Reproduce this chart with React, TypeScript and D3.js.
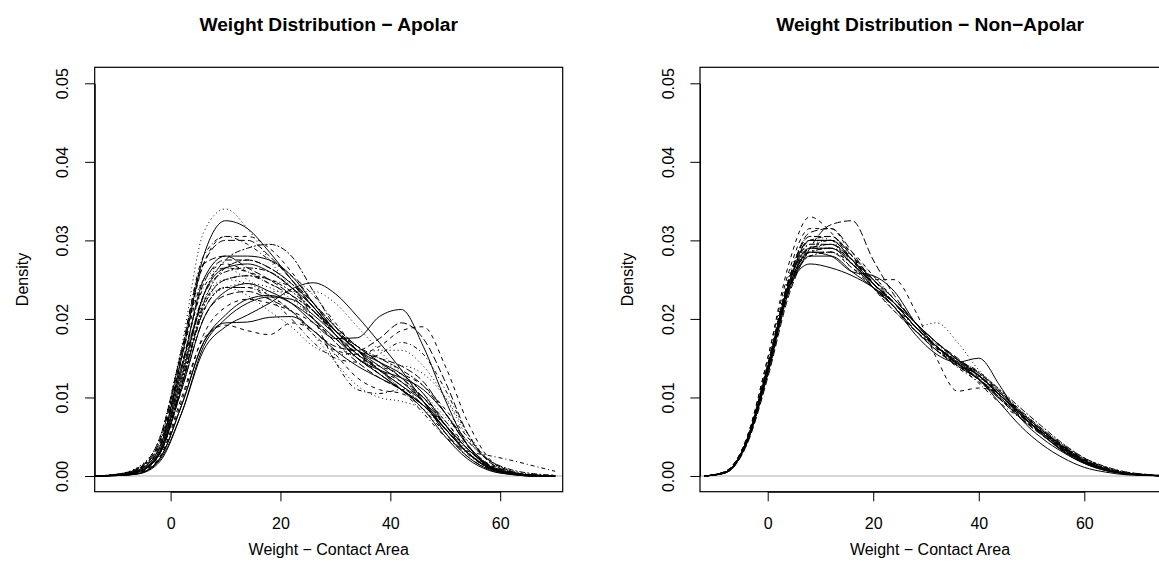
import React, { useRef, useEffect } from 'react';
import * as d3 from 'd3';

// density values in thousandths (x 0.001)
const leftGrid = [-14, -10, -6, -2, 2, 6, 10, 14, 18, 22, 26, 30, 34, 38, 42, 46, 50, 54, 58, 62, 66, 70];
const leftCurves = [
  [0, 0.1, 0.7, 3.6, 15, 28, 32.5, 31.5, 28.5, 25, 21.5, 18.5, 16, 14, 12, 9.5, 6, 3, 1.1, 0.3, 0.1, 0],
  [0, 0.2, 1.1, 4.8, 16.5, 31, 34, 31.5, 27.5, 24, 21, 18.5, 16.5, 14.5, 12.5, 10, 6.5, 3.2, 1.2, 0.4, 0.1, 0],
  [0, 0.1, 0.5, 2.8, 11, 20, 23.5, 24.5, 23.5, 22, 19.5, 17.5, 17.6, 20.3, 21.2, 16.5, 9.7, 4, 1.2, 0.3, 0.1, 0],
  [0, 0.05, 0.3, 2, 8, 16, 19, 20.5, 22, 23.8, 24.6, 23.2, 20.3, 17, 13.5, 9.5, 5.5, 2.5, 0.8, 0.2, 0, 0],
  [0, 0.05, 0.3, 2.2, 9, 17, 19.5, 19.6, 20.2, 20.3, 18.5, 16, 14, 12.5, 11, 8.5, 5, 2.2, 0.7, 0.2, 0, 0],
  [0, 0.1, 0.4, 2.4, 10, 17.5, 19.2, 18.5, 18, 19.5, 18.5, 15.5, 12.5, 11, 10.5, 9, 6, 3, 1, 0.3, 0.1, 0],
  [0, 0.2, 0.9, 4, 14, 22, 25, 25.5, 24.5, 23, 21, 18.5, 16, 13.5, 11, 8, 5, 3.2, 2.6, 2, 1.3, 0.6],
  [0, 0.1, 0.9, 4.4, 15.5, 27, 30, 30, 28, 25, 22, 19, 16.5, 14.5, 12.5, 10, 6.5, 3.5, 1.3, 0.4, 0.1, 0],
  [0, 0.1, 0.5, 2.8, 12, 23, 27.5, 29, 29.5, 28, 23.5, 19, 16, 13.5, 11.5, 9, 6, 3, 1, 0.3, 0.1, 0],
  [0, 0.1, 0.6, 3.2, 13.5, 25, 28, 28, 27.5, 25.5, 22, 18.5, 16, 14.5, 13, 10.5, 6.5, 3, 1, 0.3, 0.1, 0],
  [0, 0.15, 0.8, 4, 15, 25, 27, 26, 24.5, 23, 21, 18, 15.5, 13.5, 12, 10, 7, 3.8, 1.5, 0.5, 0.1, 0],
  [0, 0.2, 1.1, 4.8, 16, 25, 26.5, 25, 23, 21, 18, 14.5, 11.5, 10, 9.5, 8.5, 6, 3, 1, 0.3, 0.1, 0],
  [0, 0.1, 0.7, 3.6, 14, 24, 26.5, 26, 25, 24, 20, 14.5, 11, 10.5, 11, 10, 7, 3.5, 1.2, 0.3, 0.1, 0],
  [0, 0.1, 0.5, 2.8, 11, 20, 23, 23.5, 22.5, 21, 18.5, 16.5, 16, 17.5, 19.5, 17.5, 12, 5.5, 1.8, 0.5, 0.1, 0],
  [0, 0.1, 0.6, 3.2, 13, 23, 26, 26.5, 26, 24, 21, 18, 15, 13, 11, 9, 6.5, 3.5, 1.4, 0.4, 0.1, 0],
  [0, 0.05, 0.3, 2.2, 9, 17, 20.5, 22.5, 23, 22, 20, 17.5, 15, 13, 11, 9, 6, 3, 1, 0.3, 0, 0],
  [0, 0.1, 0.4, 2.4, 9.5, 18, 21.5, 22.5, 22, 21, 19.5, 17.5, 15.5, 14, 13, 11.5, 8.5, 5, 2, 0.6, 0.1, 0],
  [0, 0.2, 0.9, 4, 14, 22, 24, 23, 21, 19, 16.5, 15.5, 15.5, 16, 16, 14, 10, 5, 1.8, 0.5, 0.1, 0],
  [0, 0.15, 0.9, 4.4, 16, 28, 30.5, 29.5, 27.5, 25.5, 23, 19.5, 16, 13.5, 11, 8.5, 5.5, 2.8, 1, 0.3, 0, 0],
  [0, 0.1, 0.7, 3.6, 14, 24.5, 27.5, 27.5, 26.5, 24.5, 21.5, 18.5, 16, 15, 14, 12, 8, 4, 1.4, 0.4, 0.1, 0],
  [0, 0.1, 0.5, 2.8, 11.5, 21.5, 25, 25.5, 25, 23.5, 21, 18.5, 16.5, 15, 13.5, 11.5, 8, 4.5, 2, 0.8, 0.3, 0.1],
  [0, 0.1, 0.5, 3, 12.5, 23, 26.5, 27, 26, 24, 21.5, 18, 15, 13.5, 12.5, 11, 8, 4, 1.3, 0.3, 0.1, 0],
  [0, 0.1, 0.7, 3.6, 15, 27, 30.5, 30.5, 29, 26, 22, 18.5, 15.5, 13, 11, 9, 6, 3, 1, 0.3, 0.1, 0],
  [0, 0.15, 0.8, 3.6, 13, 22.5, 25, 24.5, 23.5, 23.5, 23.5, 22, 19, 16, 13, 10.5, 7.5, 4.5, 2, 0.7, 0.2, 0],
  [0, 0.1, 0.5, 2.8, 11.5, 21, 24, 24, 22.5, 20, 17, 15, 14.5, 15.5, 17, 15.5, 11, 5.5, 1.8, 0.5, 0.1, 0],
  [0, 0.2, 1, 4.8, 16, 27, 28, 26.5, 25, 23, 20, 17, 14.5, 12.5, 11, 9, 6, 3, 1.1, 0.3, 0.1, 0],
  [0, 0.1, 0.5, 2.8, 11.5, 22, 26.5, 27.5, 26.5, 24.5, 22, 19, 16.5, 14.5, 12.5, 9.5, 5.5, 2.5, 0.9, 0.3, 0, 0],
  [0, 0.05, 0.25, 1.8, 8, 16.5, 20, 22, 22.8, 22.5, 20.5, 18, 15.5, 13.5, 11.5, 9.5, 6.5, 3.5, 1.2, 0.3, 0, 0],
  [0, 0.1, 0.5, 2.9, 11.5, 21, 24, 24, 23, 21, 18, 16, 15.5, 16.5, 18.5, 19, 14, 7, 2.2, 0.6, 0.1, 0],
  [0, 0.1, 0.6, 3.2, 12, 21, 24, 24.5, 24, 22.5, 20, 17, 15, 14, 14, 13, 10, 5.5, 2, 0.6, 0.1, 0],
];
const leftLty = [1, 3, 1, 1, 1, 2, 4, 5, 6, 1, 2, 3, 4, 5, 6, 1, 2, 3, 4, 5, 6, 1, 2, 3, 4, 5, 6, 1, 2, 3];

const rightGrid = [-12, -8, -4, 0, 4, 8, 12, 16, 20, 24, 28, 32, 36, 40, 44, 48, 52, 56, 60, 64, 68, 72, 76];
const rightCurves = [
  [0, 0.5, 4.3, 13.5, 24.5, 30, 30, 27.5, 24.5, 22, 19, 16.5, 14.5, 12.8, 10.3, 7.8, 5.5, 3.4, 1.8, 0.8, 0.3, 0.1, 0],
  [0, 0.6, 4.8, 15, 27, 33, 31, 27.5, 24, 21.5, 18.5, 16, 14.3, 12.3, 9.8, 7.3, 5.2, 3.2, 1.7, 0.8, 0.3, 0.1, 0],
  [0, 0.5, 4.3, 13.5, 24, 28.5, 29, 27.5, 24, 21, 19, 19.5, 17, 13.5, 11, 8.2, 5.8, 3.6, 1.9, 0.9, 0.3, 0.1, 0],
  [0, 0.4, 4.1, 13, 23.5, 28, 28.5, 27, 24.5, 22, 19, 16.5, 14.8, 13.2, 10.8, 8.3, 6, 3.9, 2.2, 1.1, 0.4, 0.15, 0],
  [0, 0.5, 4.5, 14, 25, 31, 31.5, 28.5, 24.5, 21.5, 18.5, 16, 14, 12.3, 9.8, 7.3, 5.2, 3.3, 1.8, 0.8, 0.3, 0.1, 0],
  [0, 0.5, 4.3, 13.5, 24.5, 29.5, 29.5, 27, 24, 21.5, 18.5, 16, 14, 12.3, 10.3, 8, 5.8, 3.7, 2, 0.9, 0.3, 0.1, 0],
  [0, 0.4, 4.1, 13, 23.5, 28, 28, 26, 24, 21.5, 18, 15.5, 14.5, 15, 11.5, 7.3, 4.8, 3, 1.6, 0.7, 0.25, 0.1, 0],
  [0, 0.5, 4.3, 13.5, 24, 28.5, 28.5, 26.5, 25, 25, 21, 15, 10.8, 11.2, 10.5, 8, 5.6, 3.5, 1.9, 0.9, 0.3, 0.1, 0],
  [0, 0.6, 4.7, 14.5, 25.5, 30.5, 30, 27, 24, 21, 18.5, 16.5, 14.3, 12.7, 10.2, 7.7, 5.4, 3.4, 1.8, 0.8, 0.3, 0.1, 0],
  [0, 0.5, 4.3, 13.5, 24, 29, 29.5, 27.5, 24.5, 22, 19, 16.5, 14.2, 11.8, 9.3, 7.3, 5.5, 3.7, 2.1, 1.1, 0.5, 0.2, 0.05],
  [0, 0.4, 3.9, 12.5, 23, 29, 32, 32.5, 27.5, 23, 19.5, 17, 15, 12.8, 10.3, 7.8, 5.5, 3.5, 1.9, 0.9, 0.3, 0.1, 0],
  [0, 0.5, 4.4, 13.8, 24.5, 29, 29, 27, 24.5, 22, 19, 16.5, 14.6, 12.8, 10.3, 8, 5.8, 3.8, 2, 0.9, 0.3, 0.1, 0],
  [0, 0.5, 4.5, 14, 24, 27, 26.5, 25.5, 24, 22, 19.5, 17, 14.8, 12.8, 10.3, 7.8, 5.3, 3.2, 1.7, 0.8, 0.3, 0.1, 0],
  [0, 0.5, 4.3, 13.5, 24.5, 30, 30.5, 28, 24.5, 21.5, 18.5, 16.3, 14, 12.6, 10.6, 8.1, 5.8, 3.7, 2, 0.9, 0.3, 0.1, 0],
  [0, 0.4, 4.1, 13, 23.5, 28.5, 29.5, 28, 25.5, 22.5, 19.5, 17, 14.8, 13, 10.8, 8.3, 6, 3.9, 2.2, 1.1, 0.4, 0.15, 0],
  [0, 0.5, 4.3, 13.5, 24, 28.5, 28.5, 26.5, 24, 21.5, 19, 16.8, 14.8, 13.3, 10.8, 8.2, 6, 4, 2.3, 1.1, 0.4, 0.15, 0],
  [0, 0.5, 4.4, 14, 25, 30, 30, 27.5, 24.5, 22, 19, 16.5, 14.3, 12.8, 10.6, 8, 5.8, 3.7, 2, 0.9, 0.3, 0.1, 0],
  [0, 0.4, 4.2, 13.2, 24, 29, 29.5, 27.5, 25, 22.5, 19.5, 16.5, 14.3, 12.3, 10, 7.6, 5.6, 3.6, 1.9, 0.9, 0.3, 0.1, 0],
  [0, 0.5, 4.3, 13.5, 24, 28.5, 28, 26, 25.5, 23.5, 19.5, 16.5, 14.3, 12.8, 10.3, 7.8, 5.3, 3.1, 1.6, 0.7, 0.25, 0.1, 0],
  [0, 0.6, 4.8, 15, 26, 31.5, 31.5, 28, 24, 21, 18.5, 16.3, 14.1, 12.3, 9.8, 7.4, 5.3, 3.3, 1.7, 0.8, 0.3, 0.1, 0],
  [0, 0.5, 4.3, 13.5, 24.5, 29.5, 30, 28, 25, 22, 19, 16.5, 14.3, 12.6, 10.3, 8, 5.8, 3.8, 2.1, 1, 0.35, 0.1, 0],
  [0, 0.5, 4.3, 13.6, 24, 28, 28.5, 27, 24.5, 22, 19, 16.2, 13.8, 12, 9.8, 7.6, 5.6, 3.6, 1.9, 0.9, 0.3, 0.1, 0],
  [0, 0.5, 4.5, 14.2, 25, 30.5, 30.5, 28, 25, 22, 19, 16.5, 14.3, 12.4, 10, 7.6, 5.5, 3.5, 1.8, 0.8, 0.3, 0.1, 0],
  [0, 0.5, 4.3, 13.5, 24, 28.5, 29, 27.5, 25, 22.5, 19.5, 17, 14.8, 13.1, 11, 8.6, 6.3, 4.1, 2.3, 1.2, 0.5, 0.2, 0.05],
  [0, 0.5, 4.4, 13.8, 24.5, 29, 29, 27, 24.5, 22, 19, 16.5, 14.3, 12.3, 9.3, 6.3, 4, 2.3, 1.1, 0.5, 0.15, 0.05, 0],
  [0, 0.4, 4.1, 13, 23.5, 29, 30, 28.5, 25.5, 22.5, 19.5, 17, 14.8, 13.1, 10.6, 8.1, 5.8, 3.8, 2.1, 1, 0.35, 0.1, 0],
];
const rightLty = rightCurves.map((_, i) => (i % 6) + 1);

const yTicks = [0, 0.01, 0.02, 0.03, 0.04, 0.05];
const xTicks = [0, 20, 40, 60];
const titles = ['Weight Distribution \u2212 Apolar', 'Weight Distribution \u2212 Non\u2212Apolar'];
const xTitle = 'Weight \u2212 Contact Area';
const yTitle = 'Density';

// R line types
const dashes: Record<number, string | null> = {
  1: null,
  2: '4,4',
  3: '1,3',
  4: '1,3,4,3',
  5: '7,3',
  6: '2,2,6,2',
};

const FONT = '"Liberation Sans", Arial, Helvetica, sans-serif';

const panels = [
  { left: 94.7, right: 562.7, x0: 170.6, x60: 500.2, grid: leftGrid, curves: leftCurves, lty: leftLty, title: titles[0] },
  { left: 700, right: 1160, x0: 767.7, x60: 1084.3, grid: rightGrid, curves: rightCurves, lty: rightLty, title: titles[1] },
];

const App = () => {
  const ref = useRef<SVGSVGElement>(null);

  useEffect(() => {
    const svg = d3.select(ref.current);
    svg.selectAll('*').remove();

    const top = 67.3;
    const bottom = 491.7;
    const y = d3.scaleLinear().domain([0, 0.05]).range([476, 83.3]);

    panels.forEach((p, pi) => {
      const x = d3.scaleLinear().domain([0, 60]).range([p.x0, p.x60]);
      const g = svg.append('g');

      svg.append('defs')
        .append('clipPath')
        .attr('id', `plot-clip-${pi}`)
        .append('rect')
        .attr('x', p.left)
        .attr('y', top)
        .attr('width', p.right - p.left)
        .attr('height', bottom - top);

      // zero line
      g.append('line')
        .attr('x1', p.left)
        .attr('x2', p.right)
        .attr('y1', y(0))
        .attr('y2', y(0))
        .attr('stroke', '#c8c8c8')
        .attr('stroke-width', 1.3);

      const line = d3.line<number>()
        .x((_, j) => x(p.grid[j]))
        .y(d => y(d / 1000))
        .curve(d3.curveMonotoneX);

      g.append('g')
        .attr('clip-path', `url(#plot-clip-${pi})`)
        .selectAll('path')
        .data(p.curves)
        .enter()
        .append('path')
        .attr('d', d => line(d))
        .attr('fill', 'none')
        .attr('stroke', '#000')
        .attr('stroke-width', 1)
        .attr('stroke-dasharray', (_, i) => dashes[p.lty[i]]);

      // box
      g.append('rect')
        .attr('x', p.left)
        .attr('y', top)
        .attr('width', p.right - p.left)
        .attr('height', bottom - top)
        .attr('fill', 'none')
        .attr('stroke', '#000')
        .attr('stroke-width', 1.2);

      // x axis
      const xAxis = d3.axisBottom(x)
        .tickValues(xTicks)
        .tickSize(9.6)
        .tickSizeOuter(0)
        .tickPadding(15.9)
        .tickFormat(d3.format('d'));
      g.append('g')
        .attr('transform', `translate(0,${bottom})`)
        .call(xAxis)
        .call(a => a.selectAll('text').style('font-size', '16px').style('font-family', FONT).attr('fill', '#000'));

      // y axis, labels turned like R
      const yAxis = d3.axisLeft(y)
        .tickValues(yTicks)
        .tickSize(9.6)
        .tickSizeOuter(0)
        .tickFormat(d3.format('.2f'));
      g.append('g')
        .attr('transform', `translate(${p.left},0)`)
        .call(yAxis)
        .call(a => a.selectAll('text')
          .attr('x', null)
          .attr('dy', null)
          .attr('text-anchor', 'middle')
          .attr('transform', 'translate(-26.3,0) rotate(-90)')
          .style('font-size', '16px')
          .style('font-family', FONT)
          .attr('fill', '#000'));

      g.selectAll('.domain, .tick line').attr('stroke', '#000');

      g.append('text')
        .attr('x', (p.left + p.right) / 2)
        .attr('y', 31)
        .attr('text-anchor', 'middle')
        .style('font-family', FONT)
        .style('font-size', '19.2px')
        .style('font-weight', 'bold')
        .text(p.title);

      g.append('text')
        .attr('x', (p.left + p.right) / 2)
        .attr('y', bottom + 63)
        .attr('text-anchor', 'middle')
        .style('font-family', FONT)
        .style('font-size', '16px')
        .text(xTitle);

      g.append('text')
        .attr('transform', `translate(${p.left - 66.8},${(top + bottom) / 2}) rotate(-90)`)
        .attr('text-anchor', 'middle')
        .style('font-family', FONT)
        .style('font-size', '16px')
        .text(yTitle);
    });
  }, []);

  return (
    <svg
      ref={ref}
      width={1159}
      height={579}
      style={{ position: 'absolute', left: 0, top: 0, background: '#fff' }}
    />
  );
};

export default App;
